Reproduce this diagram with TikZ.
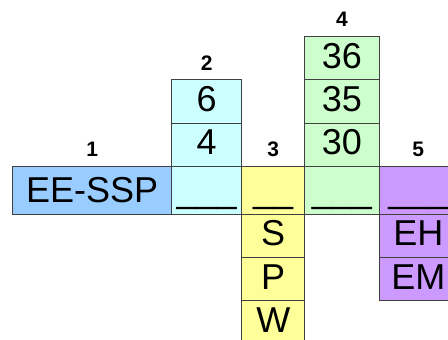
\documentclass[tikz,border=0pt]{standalone}
\usepackage{fontspec}
\setmainfont{Liberation Sans}
\usetikzlibrary{matrix,positioning}

\definecolor{sspblue}{RGB}{153,204,255}
\definecolor{cyancell}{RGB}{204,255,255}
\definecolor{yellowcell}{RGB}{255,255,153}
\definecolor{greencell}{RGB}{204,255,204}
\definecolor{violetcell}{RGB}{204,153,255}

\newcommand{\cellfont}{\fontsize{36}{40}\selectfont}
\newcommand{\numfont}{\fontsize{21}{24}\selectfont\bfseries}

\tikzset{
  numlabel/.style={font=\numfont, inner sep=0pt}
}

\begin{document}
\begin{tikzpicture}[x=1pt,y=1pt]
     \clip (0,0) rectangle (448,-340);
     \matrix [%
       matrix of nodes,
       matrix anchor=north west,
       inner sep=0pt,
       column sep=-0.8pt,
       row sep=-0.8pt,
       nodes={draw=black!75, line width=0.8pt, font=\cellfont,
              minimum height=43.2pt, text height=24pt, text depth=4pt},
       row 4/.style={nodes={minimum height=48pt, text height=25pt, text depth=0pt}},
       column 1/.style={nodes={fill=sspblue, minimum width=159pt}},
       column 2/.style={nodes={fill=cyancell, minimum width=70.3pt}},
       column 3/.style={nodes={fill=yellowcell, minimum width=62.7pt}},
       column 4/.style={nodes={fill=greencell, minimum width=74.7pt}},
       column 5/.style={nodes={fill=violetcell, minimum width=78pt}}
     ] (grid) at (12,-36) {%
                &        &      & 36     &        \\
                & 6      &      & 35     &        \\
                & 4      &      & 30     &        \\
         EE-SSP & \_\_\_ & \_\_ & \_\_\_ & \_\_\_ \\
                &        & S    &        & EH     \\
                &        & P    &        & EM     \\
                &        & W    &        &        \\
     };

     \node[numlabel, above=9pt of grid-4-1] (num1) {1};
     \node[numlabel, above=9pt of grid-2-2] (num2) {2};
     \node[numlabel, above=9pt of grid-4-3] (num3) {3};
     \node[numlabel, above=9pt of grid-1-4] (num4) {4};
     \node[numlabel, above=9pt of grid-4-5] (num5) {5};
\end{tikzpicture}
\end{document}
